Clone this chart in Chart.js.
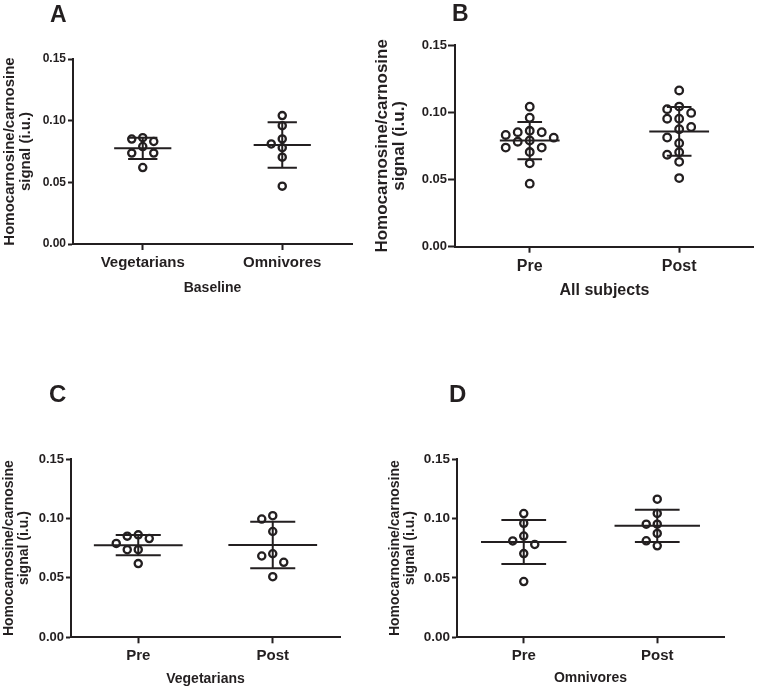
<!DOCTYPE html>
<html>
<head>
<meta charset="utf-8">
<script src="https://cdn.jsdelivr.net/npm/chart.js@4.4.1/dist/chart.umd.min.js"></script>
<style>
  html, body { margin: 0; padding: 0; background: #ffffff; }
  body { width: 760px; height: 689px; position: relative; overflow: hidden; }
  canvas { position: absolute; }
</style>
</head>
<body>
<canvas id="cA" width="370" height="310" style="left:0px;top:0px;"></canvas>
<canvas id="cB" width="390" height="310" style="left:370px;top:0px;"></canvas>
<canvas id="cC" width="370" height="329" style="left:0px;top:360px;"></canvas>
<canvas id="cD" width="390" height="329" style="left:370px;top:360px;"></canvas>
<script>
// ---------------- DATA ----------------
const vegPre   = [0.0831, 0.0851, 0.0862, 0.0790, 0.0737, 0.0737, 0.0620];
const omniPre  = [0.1041, 0.0959, 0.0781, 0.0811, 0.0852, 0.0704, 0.0469];
const vegPost  = [0.1023, 0.0995, 0.0890, 0.0684, 0.0703, 0.0631, 0.0510];
const omniPost = [0.1162, 0.1042, 0.0952, 0.0952, 0.0874, 0.0812, 0.0770];
const allPre   = vegPre.concat(omniPre);
const allPost  = vegPost.concat(omniPost);

const yTickValues = [0, 0.05, 0.10, 0.15];
const yTitleLines = ['Homocarnosine/carnosine', 'signal (i.u.)'];

const catsA = ['Vegetarians', 'Omnivores'];
const catsPrePost = ['Pre', 'Post'];

const panelLetters = ['A', 'B', 'C', 'D'];
const panelXTitles = ['Baseline', 'All subjects', 'Vegetarians', 'Omnivores'];
const panelGroups  = [[vegPre, omniPre], [allPre, allPost], [vegPre, vegPost], [omniPre, omniPost]];
const panelCats    = [catsA, catsPrePost, catsPrePost, catsPrePost];

// ---------------- STYLE / LAYOUT ----------------
const INK = '#231f20';
const FAMILY = "'Liberation Sans', Arial, Helvetica, sans-serif";
Chart.defaults.font.family = FAMILY;
Chart.defaults.color = INK;

const styles = [
  { canvas: 'cA', top: 59, pr: 18, pb: 6,   yw: 73, xh: 60, tick: 12, tl: 5, tp: 2, cat: 15, xt: 14, xtp: 7.6, yt: 15, ylh: 1.1,  ytp: 1.5,
    letter: { x: 50, y: 22, size: 23 }, meanHalf: 0.41, capHalf: 0.21, step: 11, thresh: 8.6, r: 3.6, bw: 2.3 },
  { canvas: 'cB', top: 45, pr: 2,  pb: 3.3, yw: 85, xh: 60, tick: 13, tl: 7, tp: 1, cat: 16, xt: 16, xtp: 6.4, yt: 17, ylh: 1.0,  ytp: 3.6,
    letter: { x: 82, y: 21, size: 23 }, meanHalf: 0.40, capHalf: 0.165, step: 12, thresh: 9.0, r: 3.8, bw: 2.3 },
  { canvas: 'cC', top: 99, pr: 30, pb: 1.7, yw: 71, xh: 50, tick: 13, tl: 5, tp: 2, cat: 15, xt: 14, xtp: 0,   yt: 14, ylh: 1.05, ytp: 1.6,
    letter: { x: 49, y: 41.7, size: 24 }, meanHalf: 0.66, capHalf: 0.335, step: 11, thresh: 8.6, r: 3.6, bw: 2.3 },
  { canvas: 'cD', top: 99, pr: 36, pb: 1.7, yw: 87, xh: 50, tick: 13.5, tl: 5, tp: 2, cat: 15, xt: 14, xtp: 1, yt: 14, ylh: 1.05, ytp: 17.6,
    letter: { x: 79, y: 41.5, size: 24 }, meanHalf: 0.64, capHalf: 0.335, step: 11, thresh: 8.6, r: 3.6, bw: 2.3 }
];

function stats(vals) {
  const n = vals.length;
  const m = vals.reduce((a, b) => a + b, 0) / n;
  const sd = Math.sqrt(vals.reduce((a, b) => a + (b - m) * (b - m), 0) / (n - 1));
  return { m, sd };
}

function makePanel(idx) {
  const s = styles[idx];
  const groups = panelGroups[idx];
  const cats = panelCats[idx];

  const datasets = groups.map((vals, gi) => ({
    data: vals.map(v => ({ x: 2 * gi + 1, y: v })),
    showLine: false,
    pointRadius: s.r,
    pointHoverRadius: s.r,
    pointBorderWidth: s.bw,
    pointBorderColor: INK,
    pointBackgroundColor: 'rgba(0,0,0,0)'
  }));

  const letterPlugin = {
    id: 'panelLetter' + idx,
    afterDraw(chart) {
      const ctx = chart.ctx;
      ctx.save();
      ctx.fillStyle = INK;
      ctx.font = 'bold ' + s.letter.size + 'px ' + FAMILY;
      ctx.textAlign = 'left';
      ctx.textBaseline = 'alphabetic';
      ctx.fillText(panelLetters[idx], s.letter.x, s.letter.y);
      ctx.restore();
    }
  };

  const meanSdPlugin = {
    id: 'meanSd' + idx,
    afterDatasetsDraw(chart) {
      const { ctx } = chart;
      const x = chart.scales.x, y = chart.scales.y;
      ctx.save();
      ctx.strokeStyle = INK;
      ctx.lineWidth = 2;
      ctx.lineCap = 'butt';
      groups.forEach((vals, gi) => {
        const { m, sd } = stats(vals);
        const c = 2 * gi + 1;
        const ym = y.getPixelForValue(m);
        const yHi = y.getPixelForValue(m + sd);
        const yLo = y.getPixelForValue(m - sd);
        const xc = x.getPixelForValue(c);
        ctx.beginPath();
        ctx.moveTo(x.getPixelForValue(c - s.meanHalf), ym);
        ctx.lineTo(x.getPixelForValue(c + s.meanHalf), ym);
        ctx.moveTo(xc, yHi);
        ctx.lineTo(xc, yLo);
        ctx.moveTo(x.getPixelForValue(c - s.capHalf), yHi);
        ctx.lineTo(x.getPixelForValue(c + s.capHalf), yHi);
        ctx.moveTo(x.getPixelForValue(c - s.capHalf), yLo);
        ctx.lineTo(x.getPixelForValue(c + s.capHalf), yLo);
        ctx.stroke();
      });
      ctx.restore();
    }
  };

  const chart = new Chart(document.getElementById(s.canvas), {
    type: 'scatter',
    data: { datasets },
    options: {
      responsive: false,
      animation: false,
      devicePixelRatio: 1,
      events: [],
      layout: { padding: { left: 0, right: s.pr, top: s.top, bottom: s.pb } },
      plugins: { legend: { display: false }, tooltip: { enabled: false } },
      scales: {
        x: {
          type: 'linear',
          min: 0, max: 4,
          afterBuildTicks: sc => { sc.ticks = cats.map((c, i) => ({ value: 2 * i + 1 })); },
          afterFit: sc => { sc.height = s.xh; },
          ticks: {
            autoSkip: false, maxRotation: 0, minRotation: 0, padding: 4, color: INK,
            font: { size: s.cat, weight: 'bold' },
            callback: v => cats[Math.round((v - 1) / 2)]
          },
          grid: { display: true, drawOnChartArea: false, drawTicks: true, tickLength: 6, tickWidth: 2, tickColor: INK },
          border: { display: true, width: 2, color: INK },
          title: { display: true, text: panelXTitles[idx], color: INK,
                   font: { size: s.xt, weight: 'bold' }, padding: { top: 0, bottom: s.xtp } }
        },
        y: {
          type: 'linear',
          min: 0, max: 0.15,
          afterBuildTicks: sc => { sc.ticks = yTickValues.map(v => ({ value: v })); },
          afterFit: sc => { sc.width = s.yw; },
          ticks: { padding: s.tp, color: INK, font: { size: s.tick, weight: 'bold' },
                   callback: v => Number(v).toFixed(2) },
          grid: { display: true, drawOnChartArea: false, drawTicks: true, tickLength: s.tl, tickWidth: 2, tickColor: INK },
          border: { display: true, width: 2, color: INK },
          title: { display: true, text: yTitleLines, color: INK,
                   font: { size: s.yt, weight: 'bold', lineHeight: s.ylh }, padding: { top: s.ytp, bottom: 0 } }
        }
      }
    },
    plugins: [letterPlugin, meanSdPlugin]
  });

  // Beeswarm spreading of points that would overlap (computed through the scales)
  const xs = chart.scales.x, ys = chart.scales.y;
  const unitPx = xs.getPixelForValue(1) - xs.getPixelForValue(0);
  groups.forEach((vals, gi) => {
    const center = 2 * gi + 1;
    const order = vals.map((v, i) => i).sort((a, b) => vals[b] - vals[a]);
    const placed = [];
    order.forEach(i => {
      const py = ys.getPixelForValue(vals[i]);
      for (let k = 0; k < 40; k++) {
        const slot = k === 0 ? 0 : (k % 2 ? -Math.ceil(k / 2) : Math.ceil(k / 2));
        const px = slot * s.step;
        if (placed.every(q => Math.hypot(q.px - px, q.py - py) >= s.thresh)) {
          placed.push({ px, py });
          chart.data.datasets[gi].data[i].x = center + px / unitPx;
          break;
        }
      }
    });
  });
  chart.update('none');
  return chart;
}

[0, 1, 2, 3].forEach(makePanel);
</script>
</body>
</html>
